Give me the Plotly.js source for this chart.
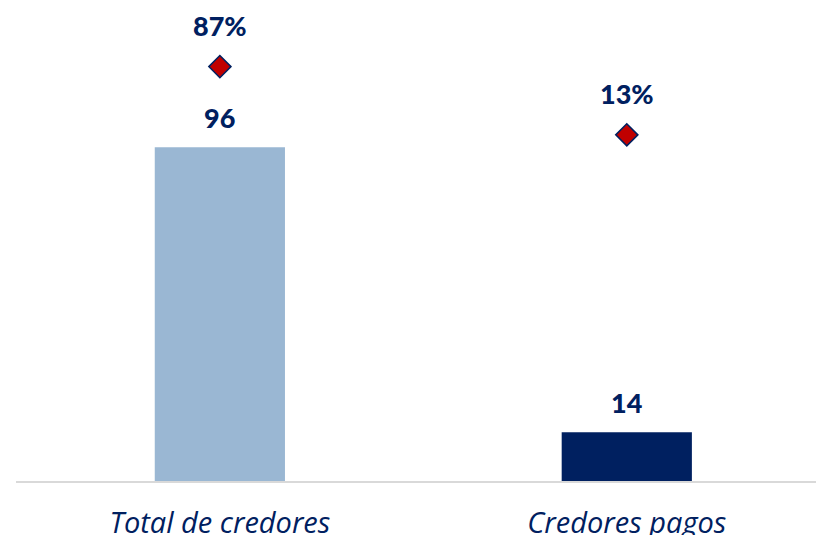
<!DOCTYPE html>
<html>
<head>
<meta charset="utf-8">
<script src="https://cdn.plot.ly/plotly-3.0.1.min.js"></script>
<style>html,body{margin:0;padding:0;background:#fff;}#chart{width:816px;height:535px;}</style>
</head>
<body>
<div id="chart"></div>
<script>
const categories = ["Total de credores", "Credores pagos"];
const counts = [96, 14];
const shares = [87, 13];
const shareLabels = ["87%", "13%"];
const barColors = ["#9AB7D3", "#002060"];

const navy = "#002060";
const font = "Lato, 'Open Sans', 'Liberation Sans', sans-serif";
const tickFont = "'Open Sans', 'Liberation Sans', sans-serif";

const bars = {
  type: "bar",
  x: categories,
  y: counts,
  width: 0.32,
  marker: {color: barColors},
  hoverinfo: "skip",
  showlegend: false
};
const diamonds = {
  type: "scatter",
  mode: "markers",
  x: categories,
  y: shares,
  yaxis: "y2",
  marker: {symbol: "diamond", size: 17, color: "#C00000", line: {color: navy, width: 1.5}},
  hoverinfo: "skip",
  showlegend: false
};

const annotations = [];
categories.forEach((c, i) => {
  annotations.push({x: c, y: counts[i], xref: "x", yref: "y", text: String(counts[i]),
    showarrow: false, yanchor: "middle", yshift: 30,
    font: {family: font, size: 27, color: navy, weight: 900}});
  annotations.push({x: c, y: shares[i], xref: "x", yref: "y2", text: shareLabels[i],
    showarrow: false, yanchor: "middle", yshift: 41,
    font: {family: font, size: 27, color: navy, weight: 900}});
});

const layout = {
  width: 816, height: 535,
  margin: {l: 16, r: 0, t: 10, b: 54},
  paper_bgcolor: "#fff", plot_bgcolor: "#fff",
  xaxis: {
    type: "category", range: [-0.501, 1.465],
    showline: true, linecolor: "#D9D9D9", linewidth: 2,
    showgrid: false, zeroline: false, ticks: "",
    tickfont: {family: tickFont, size: 29, color: navy, style: "italic"},
    ticklabelstandoff: 15
  },
  yaxis: {range: [0, 135.5], visible: false, showgrid: false, zeroline: false},
  yaxis2: {range: [-362.4, 148.4], overlaying: "y", side: "right", visible: false, showgrid: false, zeroline: false},
  annotations: annotations
};

Plotly.newPlot("chart", [bars, diamonds], layout, {displayModeBar: false, staticPlot: true});
</script>
</body>
</html>
